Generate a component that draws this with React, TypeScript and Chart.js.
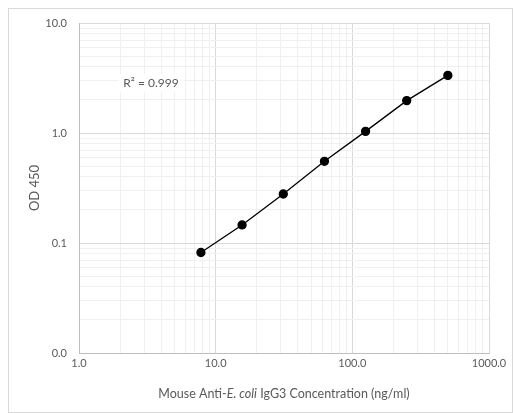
import { useEffect, useRef } from 'react';
import { Chart, registerables } from 'chart.js';

Chart.register(...registerables);

// Data
const concentrations = [7.8, 15.6, 31.25, 62.5, 125, 250, 500];
const od450 = [0.082, 0.146, 0.279, 0.553, 1.035, 1.97, 3.34];

// Axis ticks
const xMajorValues = [1, 10, 100, 1000];
const xTickLabels = ['1.0', '10.0', '100.0', '1000.0'];
const yMajorValues = [0.01, 0.1, 1, 10];
const yTickLabels = ['0.0', '0.1', '1.0', '10.0'];

const xTitleParts = ['Mouse Anti-', 'E. coli', ' IgG3 Concentration (ng/ml)'];
const yTitle = 'OD 450';
const r2Label = 'R\u00B2 = 0.999';

const FONT = 'Lato, "Open Sans", sans-serif';
const TEXT_COLOR = '#595959';

function buildLogTicks(majors: number[]) {
  const out: { value: number }[] = [];
  for (let i = 0; i < majors.length - 1; i++) {
    for (let k = 1; k <= 9; k++) {
      out.push({ value: Number((majors[i] * k).toPrecision(8)) });
    }
  }
  out.push({ value: majors[majors.length - 1] });
  return out;
}

function majorIndex(majors: number[], v: number) {
  return majors.findIndex((m) => Math.abs(m - v) / m < 1e-6);
}

export default function App() {
  const ref = useRef<HTMLCanvasElement | null>(null);

  useEffect(() => {
    if (!ref.current) return;

    const textPlugin = {
      id: 'customTexts',
      afterDraw(chart: any) {
        const ctx = chart.ctx as CanvasRenderingContext2D;
        const { left, right, top, bottom } = chart.chartArea;
        ctx.save();
        // outer frame
        ctx.strokeStyle = '#d9d9d9';
        ctx.lineWidth = 1;
        ctx.strokeRect(8.5, 8.5, chart.width - 9, chart.height - 9);

        // R² label with white background
        ctx.font = `12px ${FONT}`;
        ctx.textBaseline = 'middle';
        ctx.textAlign = 'center';
        const rw = ctx.measureText(r2Label).width;
        const rx = 151;
        const ry = 83;
        ctx.fillStyle = '#ffffff';
        ctx.fillRect(rx - rw / 2 - 5, ry - 9, rw + 10, 18);
        ctx.fillStyle = TEXT_COLOR;
        ctx.fillText(r2Label, rx, ry);

        // X title with italic part
        const fonts = [`12.5px ${FONT}`, `italic 12.5px ${FONT}`, `12.5px ${FONT}`];
        let total = 0;
        const widths = xTitleParts.map((p, i) => {
          ctx.font = fonts[i];
          const w = ctx.measureText(p).width;
          total += w;
          return w;
        });
        let x = 284 - total / 2;
        const y = 394;
        ctx.textAlign = 'left';
        xTitleParts.forEach((p, i) => {
          ctx.font = fonts[i];
          ctx.fillText(p, x, y);
          x += widths[i];
        });

        // Y title
        ctx.translate(35, (top + bottom) / 2);
        ctx.rotate(-Math.PI / 2);
        ctx.textAlign = 'center';
        ctx.font = `13px ${FONT}`;
        ctx.fillText(yTitle, 0, 0);
        ctx.restore();
      },
    };

    const chart = new Chart(ref.current, {
      type: 'scatter',
      data: {
        datasets: [
          {
            data: concentrations.map((c, i) => ({ x: c, y: od450[i] })),
            showLine: true,
            borderColor: '#000000',
            borderWidth: 1.3,
            backgroundColor: '#000000',
            pointBackgroundColor: '#000000',
            pointBorderColor: '#000000',
            pointRadius: 4,
            pointHoverRadius: 4,
          },
        ],
      },
      options: {
        responsive: false,
        animation: false,
        layout: { padding: { left: 0, right: 24, top: 23, bottom: 0 } },
        plugins: {
          legend: { display: false },
          tooltip: { enabled: false },
          title: { display: false },
        },
        scales: {
          x: {
            type: 'logarithmic',
            min: 1,
            max: 1000,
            afterBuildTicks: (scale: any) => {
              scale.ticks = buildLogTicks(xMajorValues);
            },
            afterFit: (scale: any) => {
              scale.height = 60;
            },
            grid: {
              drawTicks: false,
              color: (c: any) =>
                c.tick && majorIndex(xMajorValues, c.tick.value) >= 0 ? '#d9d9d9' : '#f0f0f0',
            },
            border: { color: '#bfbfbf', width: 1 },
            ticks: {
              autoSkip: false,
              maxRotation: 0,
              minRotation: 0,
              padding: 4,
              color: TEXT_COLOR,
              font: { family: FONT, size: 11 },
              callback: (v: any) => {
                const i = majorIndex(xMajorValues, Number(v));
                return i >= 0 ? xTickLabels[i] : '';
              },
            },
          },
          y: {
            type: 'logarithmic',
            min: 0.01,
            max: 10,
            afterBuildTicks: (scale: any) => {
              scale.ticks = buildLogTicks(yMajorValues);
            },
            afterFit: (scale: any) => {
              scale.width = 79;
            },
            grid: {
              drawTicks: false,
              color: (c: any) =>
                c.tick && majorIndex(yMajorValues, c.tick.value) >= 0 ? '#d9d9d9' : '#f0f0f0',
            },
            border: { color: '#bfbfbf', width: 1 },
            ticks: {
              autoSkip: false,
              padding: 12,
              color: TEXT_COLOR,
              font: { family: FONT, size: 11 },
              callback: (v: any) => {
                const i = majorIndex(yMajorValues, Number(v));
                return i >= 0 ? yTickLabels[i] : '';
              },
            },
          },
        },
      },
      plugins: [textPlugin],
    });

    return () => chart.destroy();
  }, []);

  return (
    <div style={{ position: 'fixed', left: 0, top: 0, width: 513, height: 413, background: '#fff' }}>
      <canvas ref={ref} width={513} height={413} style={{ display: 'block' }} />
    </div>
  );
}
